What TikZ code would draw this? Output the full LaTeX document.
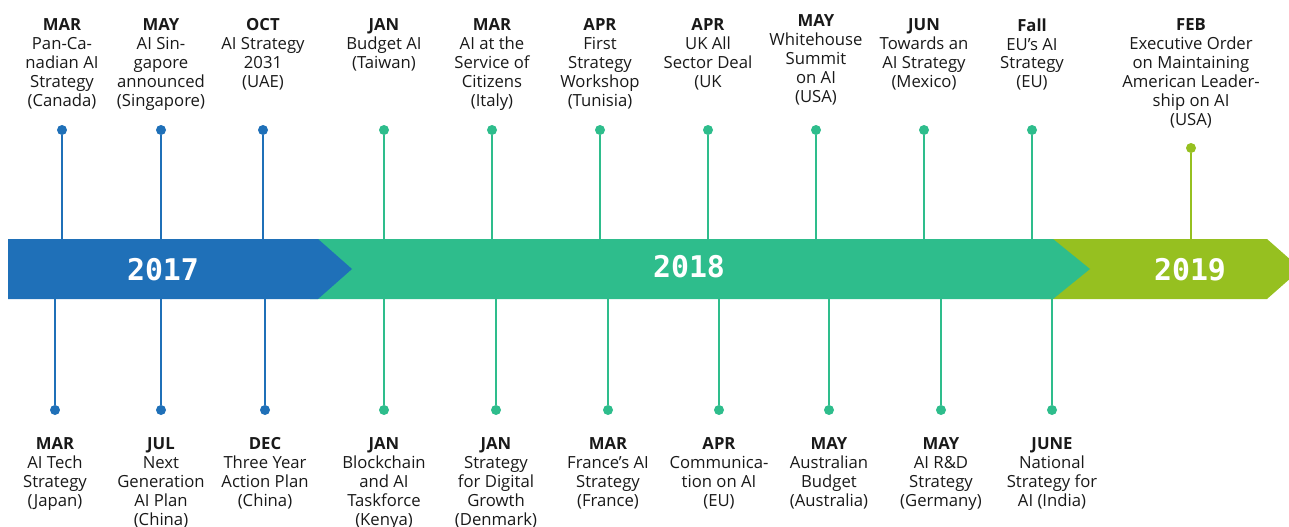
\documentclass[tikz,border=0pt]{standalone}
\usepackage{fontspec}
\setmainfont{Open Sans}
\newfontfamily\yearfont{DejaVu Sans Mono}
\definecolor{yearblue}{RGB}{31,112,184}
\definecolor{yeargreen}{RGB}{46,189,140}
\definecolor{yearolive}{RGB}{150,192,32}
\tikzset{
	evdot/.style={
		circle,
		inner sep=0pt,
		minimum size=0.2cm
	},
	evtext/.style={
		align=center,
		anchor=north,
		inner sep=0pt,
		text=black!90,
		font=\fontsize{9.5}{10.8}\selectfont
	}
}

\begin{document}
\begin{tikzpicture}[x=0.02cm, y=-0.02cm]
	\tikzstyle{stem}=[line width=0.04cm]
	\tikzstyle{yeartext}=[text=white, font=\yearfont\bfseries\fontsize{17}{17}\selectfont]
	\useasboundingbox (0,0) rectangle (1289,527);
	\clip (0,0) rectangle (1289,527);
	\coordinate (bartop) at (0,239);
	\coordinate (barbot) at (0,299);
	\coordinate (toprow) at (0,18);
	\coordinate (botrow) at (0,437);

	% top dots
	\node[evdot, fill=yearblue] (t1) at (62,130) {};
	\node[evdot, fill=yearblue] (t2) at (161,130) {};
	\node[evdot, fill=yearblue] (t3) at (263,130) {};
	\node[evdot, fill=yeargreen] (t4) at (384,130) {};
	\node[evdot, fill=yeargreen] (t5) at (492,130) {};
	\node[evdot, fill=yeargreen] (t6) at (600,130) {};
	\node[evdot, fill=yeargreen] (t7) at (708,130) {};
	\node[evdot, fill=yeargreen] (t8) at (816,130) {};
	\node[evdot, fill=yeargreen] (t9) at (924,130) {};
	\node[evdot, fill=yeargreen] (t10) at (1032,130) {};
	\node[evdot, fill=yearolive] (t11) at (1191,148) {};

	% bottom dots
	\node[evdot, fill=yearblue] (b1) at (55,410) {};
	\node[evdot, fill=yearblue] (b2) at (161,410) {};
	\node[evdot, fill=yearblue] (b3) at (265,410) {};
	\node[evdot, fill=yeargreen] (b4) at (384,410) {};
	\node[evdot, fill=yeargreen] (b5) at (496,410) {};
	\node[evdot, fill=yeargreen] (b6) at (608,410) {};
	\node[evdot, fill=yeargreen] (b7) at (719,410) {};
	\node[evdot, fill=yeargreen] (b8) at (829,410) {};
	\node[evdot, fill=yeargreen] (b9) at (941,410) {};
	\node[evdot, fill=yeargreen] (b10) at (1052,410) {};

	% stems
	\draw[stem, yearblue] (t1) -- (t1 |- bartop);
	\draw[stem, yearblue] (t2) -- (t2 |- bartop);
	\draw[stem, yearblue] (t3) -- (t3 |- bartop);
	\draw[stem, yeargreen] (t4) -- (t4 |- bartop);
	\draw[stem, yeargreen] (t5) -- (t5 |- bartop);
	\draw[stem, yeargreen] (t6) -- (t6 |- bartop);
	\draw[stem, yeargreen] (t7) -- (t7 |- bartop);
	\draw[stem, yeargreen] (t8) -- (t8 |- bartop);
	\draw[stem, yeargreen] (t9) -- (t9 |- bartop);
	\draw[stem, yeargreen] (t10) -- (t10 |- bartop);
	\draw[stem, yearolive] (t11) -- (t11 |- bartop);
	\draw[stem, yearblue] (b1) -- (b1 |- barbot);
	\draw[stem, yearblue] (b2) -- (b2 |- barbot);
	\draw[stem, yearblue] (b3) -- (b3 |- barbot);
	\draw[stem, yeargreen] (b4) -- (b4 |- barbot);
	\draw[stem, yeargreen] (b5) -- (b5 |- barbot);
	\draw[stem, yeargreen] (b6) -- (b6 |- barbot);
	\draw[stem, yeargreen] (b7) -- (b7 |- barbot);
	\draw[stem, yeargreen] (b8) -- (b8 |- barbot);
	\draw[stem, yeargreen] (b9) -- (b9 |- barbot);
	\draw[stem, yeargreen] (b10) -- (b10 |- barbot);

	% year bar
	\fill[yearolive] (1040,239) -- (1267,239) -- (1301,269) -- (1267,299) -- (1040,299) -- cycle;
	\fill[yeargreen] (310,239) -- (1053,239) -- (1090,269) -- (1053,299) -- (310,299) -- cycle;
	\fill[yearblue] (8,239) -- (318,239) -- (352,269) -- (318,299) -- (8,299) -- cycle;
	\node[yeartext] (y2017) at (163,270) {2017};
	\node[yeartext] (y2018) at (689,267) {2018};
	\node[yeartext] (y2019) at (1190,270) {2019};

	% labels above
	\node[evtext] (tl1) at (t1 |- toprow) {\textbf{MAR}\\Pan-Ca-\\nadian AI\\Strategy\\(Canada)};
	\node[evtext] (tl2) at (t2 |- toprow) {\textbf{MAY}\\AI Sin-\\gapore\\announced\\(Singapore)};
	\node[evtext] (tl3) at (t3 |- toprow) {\textbf{OCT}\\AI Strategy\\2031\\(UAE)};
	\node[evtext] (tl4) at (t4 |- toprow) {\textbf{JAN}\\Budget AI\\(Taiwan)};
	\node[evtext] (tl5) at (t5 |- toprow) {\textbf{MAR}\\AI at the\\Service of\\Citizens\\(Italy)};
	\node[evtext] (tl6) at (t6 |- toprow) {\textbf{APR}\\First\\Strategy\\Workshop\\(Tunisia)};
	\node[evtext] (tl7) at (t7 |- toprow) {\textbf{APR}\\UK All\\Sector Deal\\(UK};
	\node[evtext, yshift=0.08cm] (tl8) at (t8 |- toprow) {\textbf{MAY}\\Whitehouse\\Summit\\on AI\\(USA)};
	\node[evtext] (tl9) at (t9 |- toprow) {\textbf{JUN}\\Towards an\\AI Strategy\\(Mexico)};
	\node[evtext] (tl10) at (t10 |- toprow) {\textbf{Fall}\\EU’s AI\\Strategy\\(EU)};
	\node[evtext] (tl11) at (t11 |- toprow) {\textbf{FEB}\\Executive Order\\on Maintaining\\American Leader-\\ship on AI\\(USA)};

	% labels below
	\node[evtext] (bl1) at (b1 |- botrow) {\textbf{MAR}\\AI Tech\\Strategy\\(Japan)};
	\node[evtext] (bl2) at (b2 |- botrow) {\textbf{JUL}\\Next\\Generation\\AI Plan\\(China)};
	\node[evtext] (bl3) at (b3 |- botrow) {\textbf{DEC}\\Three Year\\Action Plan\\(China)};
	\node[evtext] (bl4) at (b4 |- botrow) {\textbf{JAN}\\Blockchain\\and AI\\Taskforce\\(Kenya)};
	\node[evtext] (bl5) at (b5 |- botrow) {\textbf{JAN}\\Strategy\\for Digital\\Growth\\(Denmark)};
	\node[evtext] (bl6) at (b6 |- botrow) {\textbf{MAR}\\France’s AI\\Strategy\\(France)};
	\node[evtext] (bl7) at (b7 |- botrow) {\textbf{APR}\\Communica-\\tion on AI\\(EU)};
	\node[evtext] (bl8) at (b8 |- botrow) {\textbf{MAY}\\Australian\\Budget\\(Australia)};
	\node[evtext] (bl9) at (b9 |- botrow) {\textbf{MAY}\\AI R\&D\\Strategy\\(Germany)};
	\node[evtext] (bl10) at (b10 |- botrow) {\textbf{JUNE}\\National\\Strategy for\\AI (India)};
\end{tikzpicture}
\end{document}
